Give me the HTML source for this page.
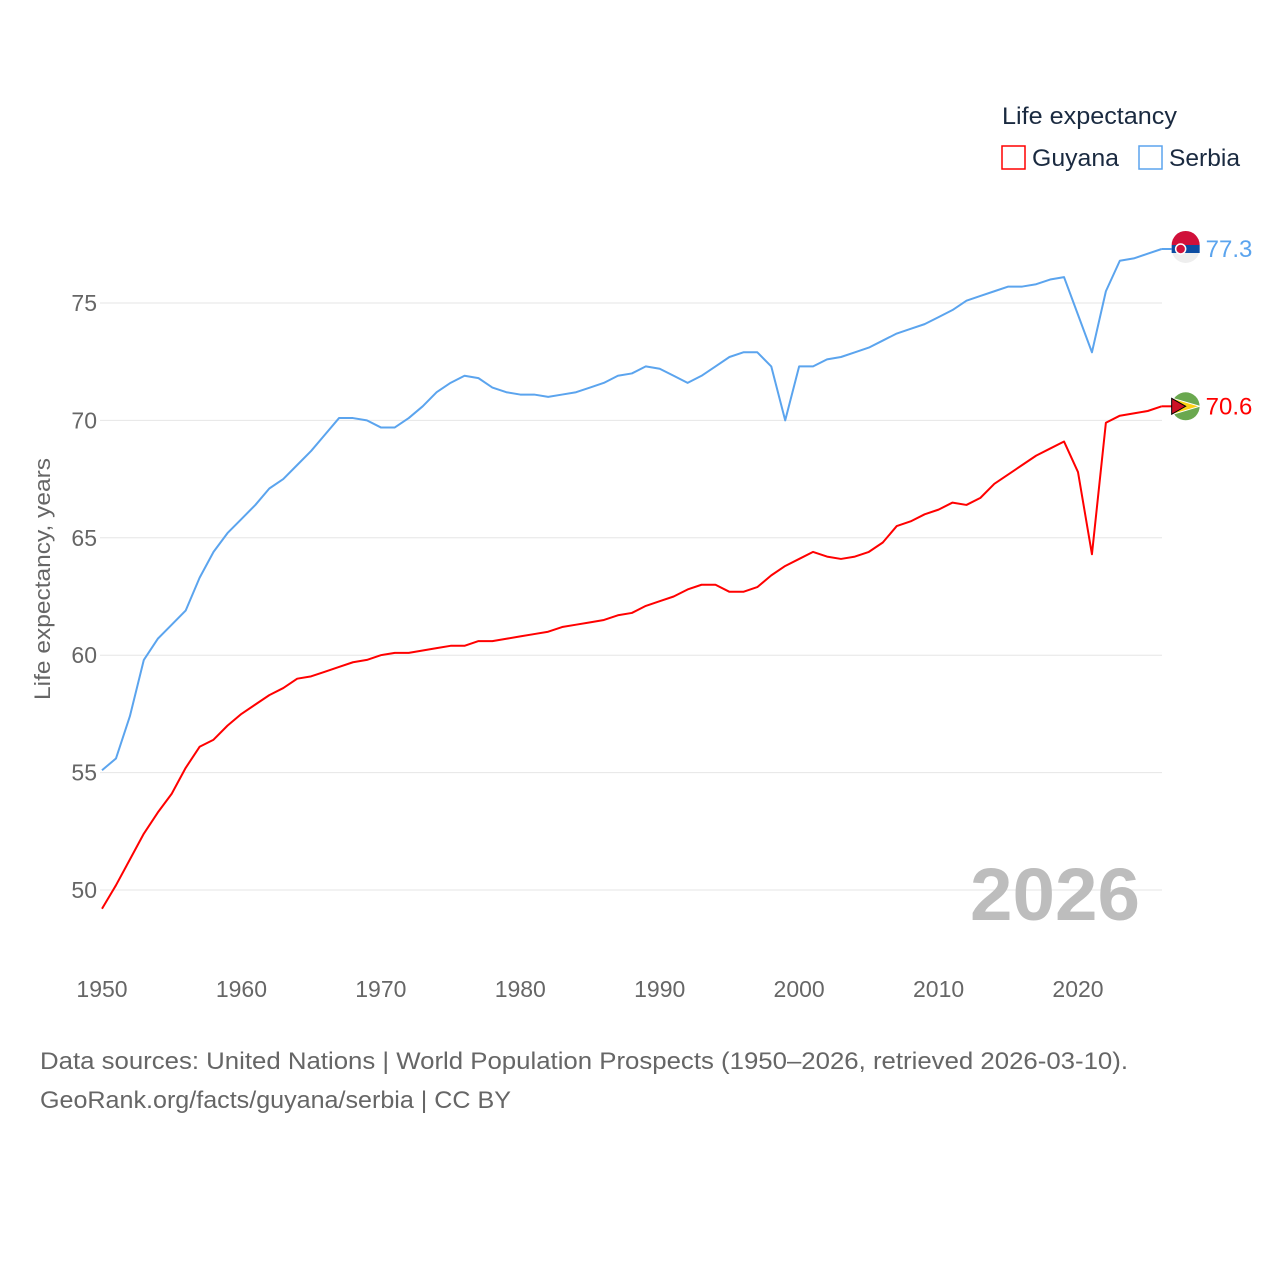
<!DOCTYPE html>
<html><head><meta charset="utf-8"><style>
body{margin:0;background:#fff;font-family:"Liberation Sans",sans-serif;}
svg text{font-family:"Liberation Sans",sans-serif;}
</style></head><body>
<svg width="1280" height="1280" viewBox="0 0 1280 1280">
<g id="grid"></g>
<g id="yticks"></g>
<g id="xticks"></g>
<text transform="translate(50,579) rotate(-90)" text-anchor="middle" font-size="22" fill="#666" textLength="242" lengthAdjust="spacingAndGlyphs">Life expectancy, years</text>
<text x="1140" y="920" text-anchor="end" font-size="74" font-weight="bold" fill="#bdbdbd" textLength="170" lengthAdjust="spacingAndGlyphs">2026</text>
<g id="lines"></g>
<g>
<text x="1002" y="124" font-size="24" fill="#1a2a40" textLength="175" lengthAdjust="spacingAndGlyphs">Life expectancy</text>
<g><rect x="1002" y="146" width="23" height="23" fill="none" stroke="#ff0000" stroke-width="1.5"/><text x="1032" y="166" font-size="24" fill="#1a2a40" textLength="87" lengthAdjust="spacingAndGlyphs">Guyana</text></g>
<g><rect x="1139" y="146" width="23" height="23" fill="none" stroke="#5ba4ee" stroke-width="1.5"/><text x="1169" y="166" font-size="24" fill="#1a2a40" textLength="71" lengthAdjust="spacingAndGlyphs">Serbia</text></g>
</g>
<g id="ends"></g>
<text x="40" y="1069" font-size="24" fill="#666" textLength="1088" lengthAdjust="spacingAndGlyphs">Data sources: United Nations | World Population Prospects (1950–2026, retrieved 2026-03-10).</text>
<text x="40" y="1108" font-size="24" fill="#666" textLength="471" lengthAdjust="spacingAndGlyphs">GeoRank.org/facts/guyana/serbia | CC BY</text>
</svg>
<script>
const startYear = 1950;
const xTicks = [1950,1960,1970,1980,1990,2000,2010,2020];
const yTicks = [50,55,60,65,70,75];
const serbia = [55.1,55.6,57.4,59.8,60.7,61.3,61.9,63.3,64.4,65.2,65.8,66.4,67.1,67.5,68.1,68.7,69.4,70.1,70.1,70.0,69.7,69.7,70.1,70.6,71.2,71.6,71.9,71.8,71.4,71.2,71.1,71.1,71.0,71.1,71.2,71.4,71.6,71.9,72.0,72.3,72.2,71.9,71.6,71.9,72.3,72.7,72.9,72.9,72.3,70.0,72.3,72.3,72.6,72.7,72.9,73.1,73.4,73.7,73.9,74.1,74.4,74.7,75.1,75.3,75.5,75.7,75.7,75.8,76.0,76.1,74.5,72.9,75.5,76.8,76.9,77.1,77.3];
const guyana = [49.2,50.2,51.3,52.4,53.3,54.1,55.2,56.1,56.4,57.0,57.5,57.9,58.3,58.6,59.0,59.1,59.3,59.5,59.7,59.8,60.0,60.1,60.1,60.2,60.3,60.4,60.4,60.6,60.6,60.7,60.8,60.9,61.0,61.2,61.3,61.4,61.5,61.7,61.8,62.1,62.3,62.5,62.8,63.0,63.0,62.7,62.7,62.9,63.4,63.8,64.1,64.4,64.2,64.1,64.2,64.4,64.8,65.5,65.7,66.0,66.2,66.5,66.4,66.7,67.3,67.7,68.1,68.5,68.8,69.1,67.8,64.3,69.9,70.2,70.3,70.4,70.6];
const NS='http://www.w3.org/2000/svg';
const x = yr => 102 + (yr-1950)*(1078-102)/70;
const y = v => 303 + (75-v)*(890-303)/25;
function mk(t,a,p){const e=document.createElementNS(NS,t);for(const k in a)e.setAttribute(k,a[k]);p.appendChild(e);return e;}
const grid=document.getElementById('grid'), yt=document.getElementById('yticks'), xt=document.getElementById('xticks');
yTicks.forEach(v=>{
  const l=mk('line',{x1:100,x2:1162,y1:y(v),y2:y(v),stroke:'#e6e6e6','stroke-width':1},grid);
  
  
  const t=mk('text',{x:97,y:y(v)+8,'text-anchor':'end','font-size':23,fill:'#666'},yt);
  
  
  t.textContent=v;
});
xTicks.forEach(v=>{
  const t=mk('text',{x:x(v),y:997,'text-anchor':'middle','font-size':23,fill:'#666'},xt);
  
  
  t.textContent=v;
});
const lines=document.getElementById('lines');
[[serbia,'#5ba4ee','serbia-line'],[guyana,'#ff0000','guyana-line']].forEach(([d,c,n])=>{
  const p=mk('polyline',{points:d.map((v,i)=>x(startYear+i)+','+y(v)).join(' '),fill:'none',stroke:c,'stroke-width':2,'stroke-linejoin':'round'},lines);
  
  
});
const ends=document.getElementById('ends');
function endLabel(d,c,name,flag){
  const last=d.length-1, ex=x(startYear+last), ey=y(d[last]);
  const cx=ex+24;
  const g=mk('g',{},ends);
  
  
  mk('line',{x1:ex,x2:cx-14,y1:ey,y2:ey,stroke:c,'stroke-width':2},g);
  flag(g,cx,ey);
  const t=mk('text',{x:cx+20,y:ey+8,'font-size':24,fill:c},g);
  t.textContent=d[last].toFixed(1);
}
endLabel(serbia,'#5ba4ee','serbia',(g,cx,cy)=>{
  mk('circle',{cx,cy,r:14,fill:'#eee'},g);
  mk('path',{d:`M${cx-14},${cy-4} A14,14 0 0 1 ${cx+14},${cy-4} Z`,fill:'#d0103a'},g);
  mk('rect',{x:cx-14,y:cy-4,width:28,height:8,fill:'#0c4da2'},g);
  mk('circle',{cx:cx-5,cy:cy,r:5,fill:'#d0103a',stroke:'#fff','stroke-width':1.5},g);
});
endLabel(guyana,'#ff0000','guyana',(g,cx,cy)=>{
  mk('circle',{cx,cy,r:14,fill:'#6aa84f'},g);
  mk('path',{d:`M${cx-13},${cy-8} L${cx+14},${cy} L${cx-13},${cy+8} Z`,fill:'#fcd116',stroke:'#fff','stroke-width':1},g);
  mk('path',{d:`M${cx-14},${cy-8} L${cx},${cy} L${cx-14},${cy+8} Z`,fill:'#ce1126',stroke:'#000','stroke-width':1},g);
});
</script>
</body></html>
